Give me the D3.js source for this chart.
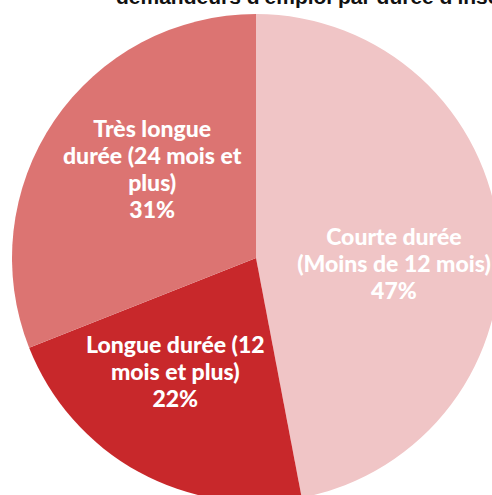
<!DOCTYPE html>
<html>
<head>
<meta charset="utf-8">
<script src="https://cdn.jsdelivr.net/npm/d3@7"></script>
<style>
    body { margin: 0; background: white; }
</style>
</head>
<body>
<div id="wrapper"></div>
<script>
// slices, clockwise from 12 o'clock
const labels = [
    ["Courte durée", "(Moins de 12 mois)"],
    ["Longue durée (12", "mois et plus)"],
    ["Très longue", "durée (24 mois et", "plus)"]
];
const shares = [47, 22, 31];
const colors = ["#f0c5c6", "#c8282b", "#dc7472"];
const title = "demandeurs d'emploi par durée d'inscription";

const dimension = {
    width: 492,
    height: 495,
    cx: 256,
    cy: 258,
    radius: 244
};

const svg = d3.select("#wrapper")
    .append("svg")
    .attr("width", dimension.width)
    .attr("height", dimension.height);

// title (mostly cropped at the top, like the original)
svg.append("text")
    .attr("x", 116)
    .attr("y", 4)
    .attr("font-family", "Liberation Sans, Arial, sans-serif")
    .attr("font-weight", "bold")
    .attr("font-size", 21)
    .attr("fill", "#111")
    .text(title);

const data = shares.map((v, i) => ({ value: v, label: labels[i], color: colors[i] }));

const pie = d3.pie()
    .sort(null)
    .value(d => d.value);

const arc = d3.arc()
    .innerRadius(0)
    .outerRadius(dimension.radius);

const g = svg.append("g")
    .attr("transform", "translate(" + dimension.cx + "," + dimension.cy + ")");

g.selectAll("path")
    .data(pie(data))
    .enter()
    .append("path")
    .attr("d", arc)
    .attr("fill", d => d.data.color);

// labels sit a bit clockwise of the slice middle, like the original
const labelR = 138, labelTurn = 7 * Math.PI / 180;
function labelPos(d){
    const a = (d.startAngle + d.endAngle) / 2 + labelTurn;
    return [labelR * Math.sin(a), -labelR * Math.cos(a)];
}

const lineH = 27;
g.selectAll("text.lab")
    .data(pie(data))
    .enter()
    .append("text")
    .attr("class", "lab")
    .attr("text-anchor", "middle")
    .attr("font-family", "Lato, sans-serif")
    .attr("font-weight", 900)
    .attr("font-size", 23)
    .attr("fill", "white")
    .each(function(d){
        const c = labelPos(d);
        const lines = d.data.label.concat([d.data.value + "%"]);
        const y0 = c[1] - (lines.length - 1) * lineH / 2 + 10;
        d3.select(this).selectAll("tspan")
            .data(lines)
            .enter()
            .append("tspan")
            .attr("x", c[0])
            .attr("y", (l, i) => y0 + i * lineH)
            .text(l => l);
    });
</script>
</body>
</html>
